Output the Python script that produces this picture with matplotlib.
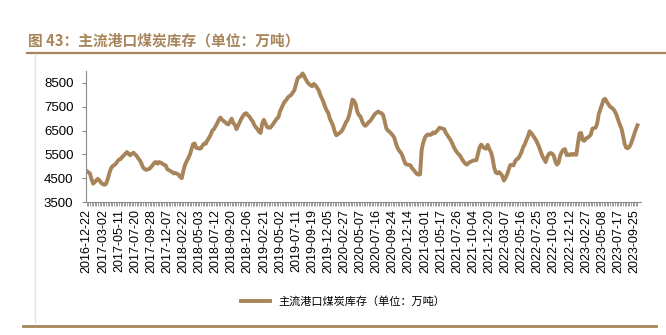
"""主流港口煤炭库存 weekly chart (figure 43)."""
import matplotlib
matplotlib.use("Agg")
import matplotlib.pyplot as plt  # noqa: E402
from matplotlib.lines import Line2D  # noqa: E402

BROWN = "#a8845a"
CJK = ["Noto Sans CJK SC", "DejaVu Sans"]

tick_labels = [
    "2016-12-22", "2017-03-02", "2017-05-11", "2017-07-20", "2017-09-28",
    "2017-12-07", "2018-02-22", "2018-05-03", "2018-07-12", "2018-09-20",
    "2018-12-06", "2019-02-21", "2019-05-02", "2019-07-11", "2019-09-19",
    "2019-12-05", "2020-02-27", "2020-05-07", "2020-07-16", "2020-09-24",
    "2020-12-14", "2021-03-01", "2021-05-17", "2021-07-26", "2021-10-04",
    "2021-12-20", "2022-03-07", "2022-05-16", "2022-07-25", "2022-10-03",
    "2022-12-12", "2023-02-27", "2023-05-08", "2023-07-17", "2023-09-25",
]

# weekly stock, 万吨 (10 weeks per row)
stock = [
    4800, 4750, 4700, 4450, 4270, 4330, 4420, 4470, 4400, 4300,
    4250, 4220, 4260, 4450, 4700, 4900, 5000, 5050, 5100, 5200,
    5280, 5300, 5390, 5450, 5530, 5600, 5520, 5460, 5530, 5570,
    5500, 5440, 5330, 5250, 5110, 4950, 4880, 4850, 4870, 4900,
    4970, 5060, 5150, 5180, 5110, 5180, 5150, 5110, 5060, 5040,
    4880, 4840, 4800, 4760, 4700, 4720, 4690, 4650, 4560, 4500,
    4800, 5050, 5200, 5330, 5480, 5700, 5920, 5960, 5780, 5760,
    5740, 5760, 5880, 5960, 5950, 6100, 6200, 6330, 6500, 6560,
    6680, 6800, 6950, 7050, 6960, 6900, 6850, 6780, 6760, 6880,
    7000, 6820, 6740, 6560, 6700, 6850, 7000, 7100, 7200, 7230,
    7150, 7090, 6980, 6900, 6740, 6640, 6560, 6450, 6400, 6800,
    6950, 6800, 6650, 6620, 6620, 6700, 6800, 6900, 7000, 7050,
    7300, 7450, 7600, 7720, 7790, 7900, 7950, 8000, 8100, 8200,
    8450, 8700, 8750, 8780, 8900, 8800, 8650, 8540, 8450, 8400,
    8360, 8460, 8400, 8300, 8200, 8000, 7850, 7700, 7500, 7350,
    7230, 7000, 6850, 6700, 6450, 6300, 6350, 6400, 6450, 6550,
    6700, 6850, 6950, 7150, 7450, 7800, 7750, 7600, 7300, 7150,
    7090, 6900, 6760, 6700, 6760, 6850, 6900, 7000, 7100, 7200,
    7250, 7300, 7250, 7230, 7160, 6900, 6600, 6500, 6450, 6380,
    6300, 6200, 5960, 5780, 5650, 5580, 5450, 5250, 5100, 5070,
    5060, 5040, 4920, 4850, 4760, 4680, 4650, 4660, 5700, 6000,
    6200, 6300, 6340, 6320, 6330, 6420, 6380, 6450, 6520, 6620,
    6600, 6580, 6560, 6400, 6300, 6200, 6100, 5960, 5800, 5680,
    5580, 5500, 5430, 5300, 5200, 5120, 5070, 5130, 5180, 5210,
    5240, 5250, 5260, 5530, 5800, 5910, 5820, 5760, 5740, 5900,
    5720, 5600, 5350, 4950, 4740, 4700, 4760, 4690, 4600, 4400,
    4500, 4650, 4850, 5050, 5060, 5040, 5200, 5300, 5330, 5450,
    5600, 5800, 5920, 6100, 6250, 6470, 6400, 6300, 6200, 6100,
    5950, 5800, 5600, 5420, 5300, 5180, 5400, 5520, 5560, 5530,
    5450, 5200, 5070, 5150, 5450, 5600, 5700, 5720, 5470, 5500,
    5470, 5520, 5480, 5520, 5480, 5950, 6380, 6400, 6100, 6070,
    6170, 6200, 6250, 6330, 6580, 6600, 6620, 6800, 7200, 7400,
    7600, 7800, 7830, 7700, 7600, 7500, 7460, 7400, 7300, 7150,
    6950, 6750, 6600, 6300, 5950, 5780, 5760, 5820, 5950, 6150,
    6350, 6550, 6720,
]

plt.rcParams["font.family"] = ["Liberation Sans", "DejaVu Sans"]

fig = plt.figure(figsize=(6.66, 3.35), dpi=100)

# title + brown rule underneath, faint frame on the left, rule at the bottom
fig.text(0.042, 0.878, "图 43：主流港口煤炭库存（单位：万吨）", family=CJK,
         fontsize=10.6, fontweight="bold", color=BROWN, va="center")
fig.add_artist(Line2D([0.040, 1.0], [0.843, 0.843], color=BROWN, lw=1.6))
fig.add_artist(Line2D([0.053, 0.053], [0.04, 0.84], color="#e2e2e2", lw=1.0))
fig.add_artist(Line2D([0.035, 0.985], [0.027, 0.027], color=BROWN, lw=2.0))

ax = fig.add_axes([0.129, 0.397, 0.833, 0.391])
x = list(range(len(stock)))
line, = ax.plot(x, stock, color=BROWN, lw=2.8, solid_joinstyle="round",
                label="主流港口煤炭库存（单位：万吨）")

ax.set_xlim(-0.5, len(stock) + 1)
ax.set_ylim(3500, 9000)
ax.set_yticks(range(3500, 9000, 1000))
ax.set_xticks(range(0, len(tick_labels) * 10, 10))
ax.set_xticklabels(tick_labels, rotation=90)
ax.set_xticks(x, minor=True)

for side in ("top", "right"):
    ax.spines[side].set_visible(False)
for side in ("left", "bottom"):
    ax.spines[side].set_color("#8c8c8c")
    ax.spines[side].set_linewidth(0.8)
ax.tick_params(axis="y", length=3, color="#8c8c8c", labelsize=9.5, pad=6)
ax.tick_params(axis="x", which="both", length=3, width=0.6, color="#8c8c8c",
               labelsize=9, pad=2)

leg = fig.legend(handles=[line], loc="center", bbox_to_anchor=(0.515, 0.10),
                 frameon=False, handlelength=2.6, prop={"family": CJK, "size": 8})

fig.savefig("out.png", dpi=100)
